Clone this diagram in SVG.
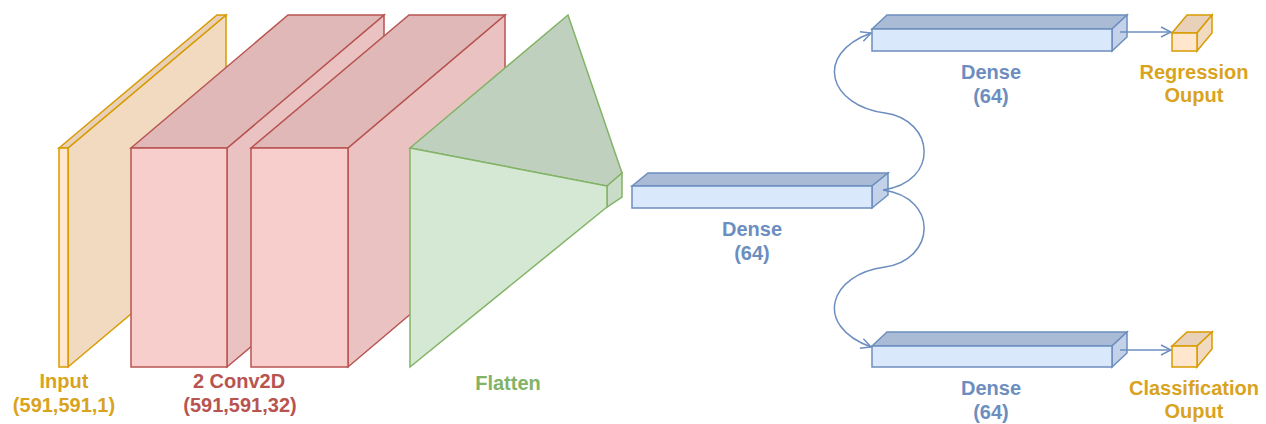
<svg xmlns="http://www.w3.org/2000/svg" width="1266" height="424" viewBox="0 0 1266 424">
  <style>
    .lbl { font-family: "Liberation Sans", Arial, sans-serif; font-weight: bold; font-size: 20px; text-anchor: middle; }
    .s { stroke-width: 1.5; stroke-linejoin: miter; }
    .orange { stroke: #d79b00; }
    .orange.front { fill: #ffe6cc; }
    .orange.side { fill: #f2dac1; }
    .orange.top { fill: #e9d0b8; }
    .red { stroke: #b85450; }
    .red.front { fill: #f8cecc; }
    .red.side { fill: #eac2c1; }
    .red.top { fill: #dfb8b7; }
    .green { stroke: #82b366; }
    .green.front { fill: #d5e8d4; }
    .green.side { fill: #c9dcc8; }
    .green.top { fill: #bfd1be; }
    .blue { stroke: #6c8ebf; }
    .blue.front { fill: #dae8fc; }
    .blue.side { fill: #c3d2e8; }
    .blue.top { fill: #aabbd6; }
    .t-orange { fill: #d9a320; }
    .t-red { fill: #b85450; }
    .t-green { fill: #82b366; }
    .t-blue { fill: #6c8ebf; }
    .edge { fill: none; stroke: #6c8ebf; stroke-width: 1.5; }
  </style>
  <defs>
    <marker id="open" viewBox="0 0 12 12" refX="11" refY="6" markerWidth="12" markerHeight="12" markerUnits="userSpaceOnUse" orient="auto">
      <path d="M 1 1 L 11 6 L 1 11" fill="none" stroke="#6c8ebf" stroke-width="1.5"/>
    </marker>
  </defs>

  <rect width="1266" height="424" fill="#ffffff"/>

  <!-- input slab -->
  <g id="input">
    <polygon class="s orange side" points="68,148 226,15 226,234 68,367"/>
    <polygon class="s orange top" points="59,148 217,15 226,15 68,148"/>
    <rect class="s orange front" x="59" y="148" width="9" height="219"/>
    <text class="lbl t-orange" x="64" y="388">Input</text>
    <text class="lbl t-orange" x="64" y="412">(591,591,1)</text>
  </g>

  <!-- first convolution block -->
  <g id="conv1">
    <polygon class="s red side" points="227,148 384,15 384,234 227,367"/>
    <polygon class="s red top" points="131,148 288,15 384,15 227,148"/>
    <rect class="s red front" x="131" y="148" width="96" height="219"/>
  </g>

  <!-- second convolution block -->
  <g id="conv2">
    <polygon class="s red side" points="348,148 505,15 505,234 348,367"/>
    <polygon class="s red top" points="251,148 409,15 505,15 348,148"/>
    <rect class="s red front" x="251" y="148" width="97" height="219"/>
    <text class="lbl t-red" x="239" y="388">2 Conv2D</text>
    <text class="lbl t-red" x="240" y="412">(591,591,32)</text>
  </g>

  <!-- flatten wedge -->
  <g id="flatten">
    <polygon class="s green top" points="410,148 568,15 622,173 607,186"/>
    <polygon class="s green side" points="607,186 622,173 622,197 607,207"/>
    <polygon class="s green front" points="410,148 607,186 607,207 410,367"/>
    <text class="lbl t-green" x="508" y="390">Flatten</text>
  </g>

  <!-- shared dense layer -->
  <g id="dense-main">
    <polygon class="s blue top" points="632,186 648,173 888,173 872,186"/>
    <polygon class="s blue side" points="872,186 888,173 888,195 872,208"/>
    <rect class="s blue front" x="632" y="186" width="240" height="22"/>
    <text class="lbl t-blue" x="752" y="236">Dense</text>
    <text class="lbl t-blue" x="752" y="260">(64)</text>
  </g>

  <!-- regression branch dense layer -->
  <g id="dense-reg">
    <polygon class="s blue top" points="872,29 887,15 1127,15 1112,29"/>
    <polygon class="s blue side" points="1112,29 1127,15 1127,37 1112,51"/>
    <rect class="s blue front" x="872" y="29" width="240" height="22"/>
    <text class="lbl t-blue" x="991" y="79">Dense</text>
    <text class="lbl t-blue" x="991" y="103">(64)</text>
  </g>

  <!-- classification branch dense layer -->
  <g id="dense-cls">
    <polygon class="s blue top" points="872,346 887,332 1127,332 1112,346"/>
    <polygon class="s blue side" points="1112,346 1127,332 1127,353 1112,367"/>
    <rect class="s blue front" x="872" y="346" width="240" height="21"/>
    <text class="lbl t-blue" x="991" y="395">Dense</text>
    <text class="lbl t-blue" x="991" y="419">(64)</text>
  </g>

  <!-- regression output -->
  <g id="out-reg">
    <polygon class="s orange top" points="1172,33 1187,15 1212,15 1197,33"/>
    <polygon class="s orange side" points="1197,33 1212,15 1212,33 1197,51"/>
    <rect class="s orange front" x="1172" y="33" width="25" height="18"/>
    <text class="lbl t-orange" x="1194" y="79">Regression</text>
    <text class="lbl t-orange" x="1194" y="102">Ouput</text>
  </g>

  <!-- classification output -->
  <g id="out-cls">
    <polygon class="s orange top" points="1172,346 1187,332 1212,332 1197,346"/>
    <polygon class="s orange side" points="1197,346 1212,332 1212,349 1197,367"/>
    <rect class="s orange front" x="1172" y="346" width="25" height="21"/>
    <text class="lbl t-orange" x="1194" y="395">Classification</text>
    <text class="lbl t-orange" x="1194" y="418">Ouput</text>
  </g>

  <!-- connectors -->
  <g id="connectors">
    <path class="edge" d="M 883 190 C 940 182, 935 120, 885 113 C 830 106, 812 55, 871 33" marker-end="url(#open)"/>
    <path class="edge" d="M 883 190 C 940 198, 935 260, 885 267 C 830 274, 812 325, 871 347" marker-end="url(#open)"/>
    <path class="edge" d="M 1120 32 L 1171 32" marker-end="url(#open)"/>
    <path class="edge" d="M 1120 350 L 1171 350" marker-end="url(#open)"/>
  </g>
</svg>
